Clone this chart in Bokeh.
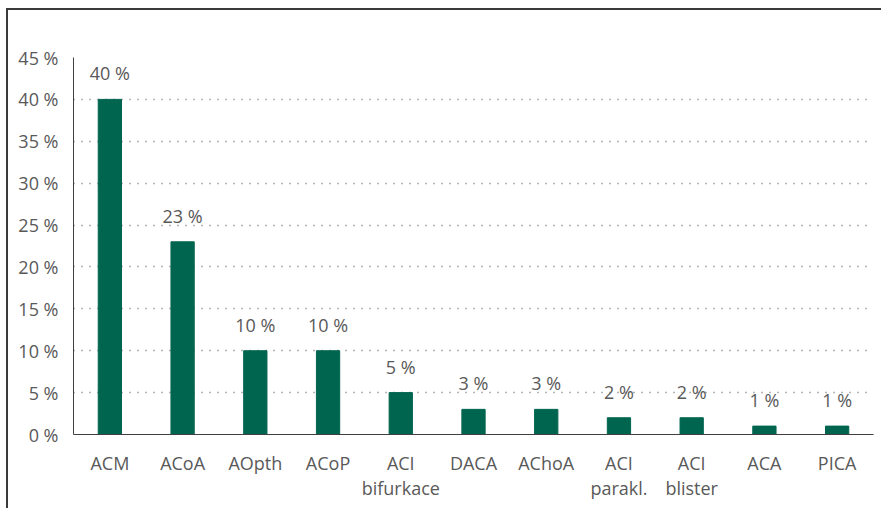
from bokeh.plotting import figure
from bokeh.models import (ColumnDataSource, FixedTicker, PrintfTickFormatter,
                          FactorRange, Range1d)
from bokeh.core.properties import value
from bokeh.embed import file_html
from bokeh.resources import INLINE

categories = ["ACM", "ACoA", "AOpth", "ACoP", "ACI\nbifurkace", "DACA", "AChoA",
              "ACI\nparakl.", "ACI\nblister", "ACA", "PICA"]
percent = [40, 23, 10, 10, 5, 3, 3, 2, 2, 1, 1]
y_ticks = [0, 5, 10, 15, 20, 25, 30, 35, 40, 45]

FONT = "Open Sans"
TXT = "#595959"
BAR = "#00654F"

labels = [f"{v} %" for v in percent]
src = ColumnDataSource(dict(cat=categories, val=percent, lab=labels))

p = figure(width=875, height=500, x_range=FactorRange(*categories),
           y_range=Range1d(0, 45), output_backend="svg", toolbar_location=None,
           min_border_left=65, min_border_right=10, min_border_top=47,
           min_border_bottom=76)
p.styles = {"margin-left": "6px", "margin-top": "8px",
            "border-left": "2px solid #3a3a3a", "border-top": "2px solid #3a3a3a",
            "border-right": "0px none", "border-bottom": "0px none"}
p.outline_line_color = None
p.xgrid.grid_line_color = None
p.ygrid.ticker = FixedTicker(ticks=y_ticks)
p.ygrid.grid_line_color = "#6a6a6a"
p.ygrid.grid_line_dash = "1 7"
p.ygrid.grid_line_width = 1.3

p.vbar(x="cat", top="val", width=0.32, source=src, color=BAR)
p.text(x="cat", y="val", text="lab", source=src, text_align="center",
       text_baseline="bottom", y_offset=-14, text_font=value(FONT),
       text_font_size="18px", text_color=TXT)

# y axis
ya = p.yaxis[0]
ya.ticker = FixedTicker(ticks=y_ticks)
ya.formatter = PrintfTickFormatter(format="%d %%")
ya.major_tick_line_color = None
ya.minor_tick_line_color = None
ya.axis_line_color = "#404040"
ya.major_label_standoff = 9
ya.major_label_text_font = FONT
ya.major_label_text_font_size = "18px"
ya.major_label_text_color = TXT

# x axis
xa = p.xaxis[0]
xa.major_tick_line_color = None
xa.axis_line_color = "#404040"
xa.major_label_standoff = 10
xa.major_label_text_font = FONT
xa.major_label_text_font_size = "18px"
xa.major_label_text_color = TXT
xa.major_label_text_line_height = 1.05

open("out.html", "w").write(file_html(p, INLINE))
